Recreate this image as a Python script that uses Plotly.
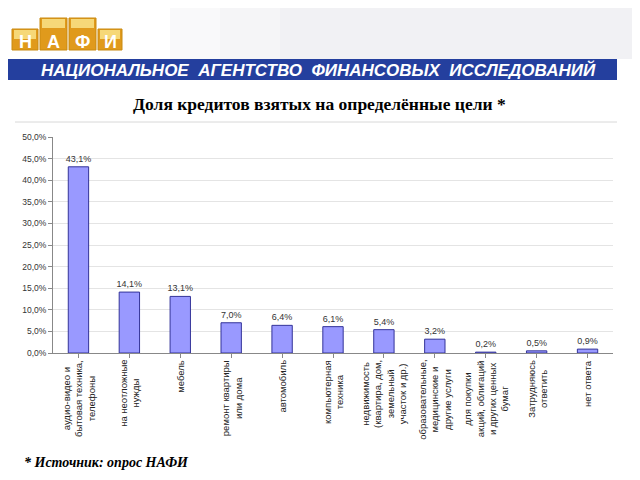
import plotly.graph_objects as go

categories = [
    "аудио-видео и<br>бытовая техника,<br>телефоны",
    "на неотложные<br>нужды",
    "мебель",
    "ремонт квартиры<br>или дома",
    "автомобиль",
    "компьютерная<br>техника",
    "недвижимость<br>(квартира, дом,<br>земельный<br>участок и др.)",
    "образовательные,<br>медицинские и<br>другие услуги",
    "для покупки<br>акций, облигаций<br>и других ценных<br>бумаг",
    "Затрудняюсь<br>ответить",
    "нет ответа",
]
values = [43.1, 14.1, 13.1, 7.0, 6.4, 6.1, 5.4, 3.2, 0.2, 0.5, 0.9]
value_labels = ["43,1%", "14,1%", "13,1%", "7,0%", "6,4%", "6,1%", "5,4%", "3,2%", "0,2%", "0,5%", "0,9%"]
y_ticks = [0, 5, 10, 15, 20, 25, 30, 35, 40, 45, 50]
y_tick_labels = ["0,0%", "5,0%", "10,0%", "15,0%", "20,0%", "25,0%", "30,0%", "35,0%", "40,0%", "45,0%", "50,0%"]

title_text = "Доля кредитов взятых на определённые цели *"
banner_text = "НАЦИОНАЛЬНОЕ  АГЕНТСТВО  ФИНАНСОВЫХ  ИССЛЕДОВАНИЙ"
logo_letters = ["Н", "А", "Ф", "И"]
footnote = "* Источник: опрос НАФИ"

# page body has an 8px margin, so the figure is offset by 8px
OFF = 8
W, H = 640 - OFF, 480 - OFF
# desired plot area in screen pixels
SX0, SX1, SY0, SY1 = 53, 613, 137, 353
L, R, T, B = SX0 - OFF, W - (SX1 - OFF), SY0 - OFF, H - (SY1 - OFF)
PW, PH = SX1 - SX0, SY1 - SY0


def px(x):
    return (x - SX0) / PW


def py(y):
    return (SY1 - y) / PH


fig = go.Figure()
fig.add_trace(go.Bar(
    x=list(range(len(categories))),
    y=values,
    text=value_labels,
    textposition="outside",
    constraintext="none",
    textfont=dict(family="Liberation Sans, Arial", size=9, color="#333333"),
    marker=dict(color="#9999FF", line=dict(color="#333399", width=1)),
    cliponaxis=False,
))

shapes = []
annotations = []


def ann(text, x, y, size, family, color="black", xanchor="center"):
    annotations.append(dict(text=text, xref="paper", yref="paper", x=px(x), y=py(y),
                            xanchor=xanchor, yanchor="middle", showarrow=False,
                            font=dict(family=family, size=size, color=color)))


# faint header background (watermark area)
for x_start, colour in [(170, "#f9f9fa"), (220, "#f5f5f7"), (280, "#f1f1f4")]:
    shapes.append(dict(type="rect", xref="paper", yref="paper",
                       x0=px(x_start), x1=px(648), y0=py(59), y1=py(-10),
                       fillcolor=colour, line=dict(width=0), layer="below"))

# chart frame top line
shapes.append(dict(type="line", xref="paper", yref="paper",
                   x0=px(15), x1=px(617), y0=py(122), y1=py(122),
                   line=dict(color="#d8d8d8", width=1)))

# banner
shapes.append(dict(type="rect", xref="paper", yref="paper",
                   x0=px(8), x1=px(617), y0=py(80), y1=py(59),
                   fillcolor="#243f9e", line=dict(width=0)))
ann("<b><i>" + banner_text + "</i></b>", 318, 70, 17, "Liberation Sans, Arial", "white")

# logo
logo_boxes = [(12, 38, 29), (40, 67, 18), (69, 96, 18), (98, 122, 29)]
for (x0, x1, ytop), letter in zip(logo_boxes, logo_letters):
    shapes.append(dict(type="rect", xref="paper", yref="paper",
                       x0=px(x0), x1=px(x1), y0=py(50), y1=py(ytop),
                       fillcolor="#e09a1c", line=dict(color="#c98a10", width=1)))
    shapes.append(dict(type="rect", xref="paper", yref="paper",
                       x0=px(x0 + 2), x1=px(x1 - 2), y0=py(ytop + 10), y1=py(ytop + 1),
                       fillcolor="#f6d878", line=dict(width=0)))
    ann("<b>" + letter + "</b>", (x0 + x1) / 2, 42, 18, "Liberation Sans, Arial", "white")

# title
ann("<b>" + title_text + "</b>", 319, 104, 17.5, "Liberation Serif, Times New Roman")

# footnote
ann("<b><i>" + footnote + "</i></b>", 22, 462, 14, "Liberation Serif, Times New Roman", xanchor="left")

# category labels (rotated, centred lines) placed on the category axis
for i, cat in enumerate(categories):
    annotations.append(dict(text=cat, xref="x", yref="paper", x=i, y=py(358),
                            xanchor="center", yanchor="top", textangle=-90, align="center",
                            showarrow=False,
                            font=dict(family="Liberation Sans, Arial", size=9.5, color="#222222")))

fig.update_layout(
    width=W, height=H,
    margin=dict(l=L, r=R, t=T, b=B, pad=0, autoexpand=False),
    paper_bgcolor="white", plot_bgcolor="white",
    showlegend=False,
    shapes=shapes,
    annotations=annotations,
    bargap=0.6,
)
fig.update_xaxes(
    automargin=False,
    tickvals=list(range(len(categories))),
    showticklabels=False,
    range=[-0.5, len(categories) - 0.5],
    showline=True, linecolor="#888888", linewidth=1,
    ticks="outside", tickson="boundaries", ticklen=4, tickcolor="#888888",
    showgrid=False,
)
fig.update_yaxes(
    automargin=False,
    range=[0, 50],
    tickvals=y_ticks, ticktext=y_tick_labels,
    showline=True, linecolor="#888888", linewidth=1,
    ticks="outside", ticklen=4, tickcolor="#888888",
    showgrid=True, gridcolor="#e4e4e4", gridwidth=1,
    zeroline=False,
    tickfont=dict(family="Liberation Sans, Arial", size=8.5, color="#333333"),
)

fig.write_html("out.html")
